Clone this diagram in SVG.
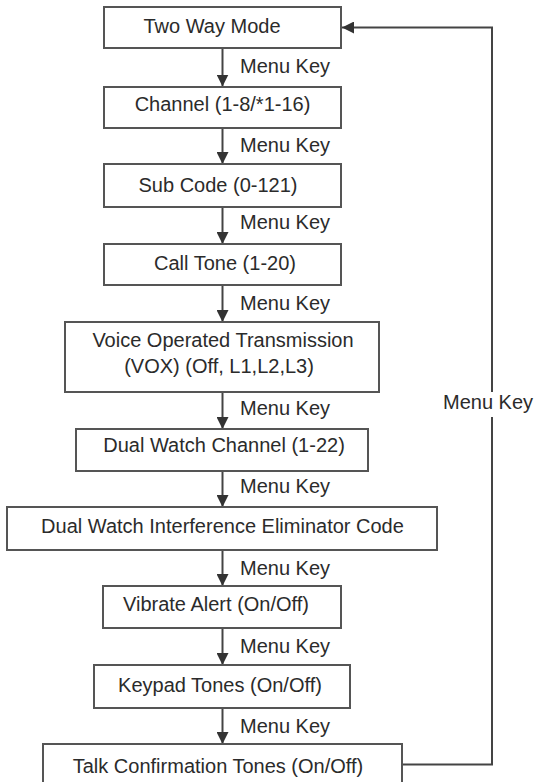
<svg xmlns="http://www.w3.org/2000/svg" width="537" height="782" viewBox="0 0 537 782">
<defs>
<marker id="ah" viewBox="0 0 12 12" refX="12" refY="6" markerWidth="12" markerHeight="12" markerUnits="userSpaceOnUse" orient="auto">
<path d="M0,0 L12,6 L0,12 Z" fill="#333"/>
</marker>
<style>
.box{fill:#fff;stroke:#555;stroke-width:2}
.t{font-family:"Liberation Sans",Arial,sans-serif;font-size:20px;fill:#2b2b2b;text-anchor:middle}
.lbl{font-family:"Liberation Sans",Arial,sans-serif;font-size:20px;fill:#2b2b2b}
.c{fill:none;stroke:#444;stroke-width:2}
</style>
</defs>
<rect width="537" height="782" fill="#fff"/>
<g id="connectors">
<line class="c" x1="222.5" y1="48" x2="222.5" y2="86.5" marker-end="url(#ah)"/>
<line class="c" x1="222.5" y1="128" x2="222.5" y2="164" marker-end="url(#ah)"/>
<line class="c" x1="222.5" y1="207" x2="222.5" y2="244" marker-end="url(#ah)"/>
<line class="c" x1="222.5" y1="285" x2="222.5" y2="322" marker-end="url(#ah)"/>
<line class="c" x1="222.5" y1="392" x2="222.5" y2="429" marker-end="url(#ah)"/>
<line class="c" x1="222.5" y1="471" x2="222.5" y2="507" marker-end="url(#ah)"/>
<line class="c" x1="222.5" y1="550" x2="222.5" y2="586" marker-end="url(#ah)"/>
<line class="c" x1="222.5" y1="628" x2="222.5" y2="665" marker-end="url(#ah)"/>
<line class="c" x1="222.5" y1="708" x2="222.5" y2="744" marker-end="url(#ah)"/>
<polyline class="c" points="402,764.5 492,764.5 492,417"/>
<polyline class="c" points="492,392 492,27.5 342,27.5" marker-end="url(#ah)"/>
<text class="lbl" x="240" y="73">Menu Key</text>
<text class="lbl" x="240" y="152">Menu Key</text>
<text class="lbl" x="240" y="229">Menu Key</text>
<text class="lbl" x="240" y="310">Menu Key</text>
<text class="lbl" x="240" y="415">Menu Key</text>
<text class="lbl" x="240" y="493">Menu Key</text>
<text class="lbl" x="240" y="575">Menu Key</text>
<text class="lbl" x="240" y="653">Menu Key</text>
<text class="lbl" x="240" y="733">Menu Key</text>
<text class="lbl" x="443" y="409">Menu Key</text>
</g>
<g id="n1"><rect class="box" x="104" y="7" width="237" height="41"/><text class="t" x="212" y="33">Two Way Mode</text></g>
<g id="n2"><rect class="box" x="104" y="87" width="237" height="41"/><text class="t" x="222.5" y="111">Channel (1-8/*1-16)</text></g>
<g id="n3"><rect class="box" x="104" y="164" width="237" height="43"/><text class="t" x="218" y="192">Sub Code (0-121)</text></g>
<g id="n4"><rect class="box" x="104" y="244" width="237" height="41"/><text class="t" x="225" y="270">Call Tone (1-20)</text></g>
<g id="n5"><rect class="box" x="65" y="322" width="314" height="70"/><text class="t" x="223" y="347">Voice Operated Transmission</text><text class="t" x="219" y="373">(VOX) (Off, L1,L2,L3)</text></g>
<g id="n6"><rect class="box" x="76" y="429" width="292" height="42"/><text class="t" x="224" y="452">Dual Watch Channel (1-22)</text></g>
<g id="n7"><rect class="box" x="7" y="507" width="430" height="43"/><text class="t" x="222.5" y="533">Dual Watch Interference Eliminator Code</text></g>
<g id="n8"><rect class="box" x="103" y="586" width="238" height="42"/><text class="t" x="216" y="611">Vibrate Alert (On/Off)</text></g>
<g id="n9"><rect class="box" x="94" y="665" width="256" height="43"/><text class="t" x="220" y="692">Keypad Tones (On/Off)</text></g>
<g id="n10"><rect class="box" x="43" y="744" width="359" height="42"/><text class="t" x="218" y="773">Talk Confirmation Tones (On/Off)</text></g>
</svg>
